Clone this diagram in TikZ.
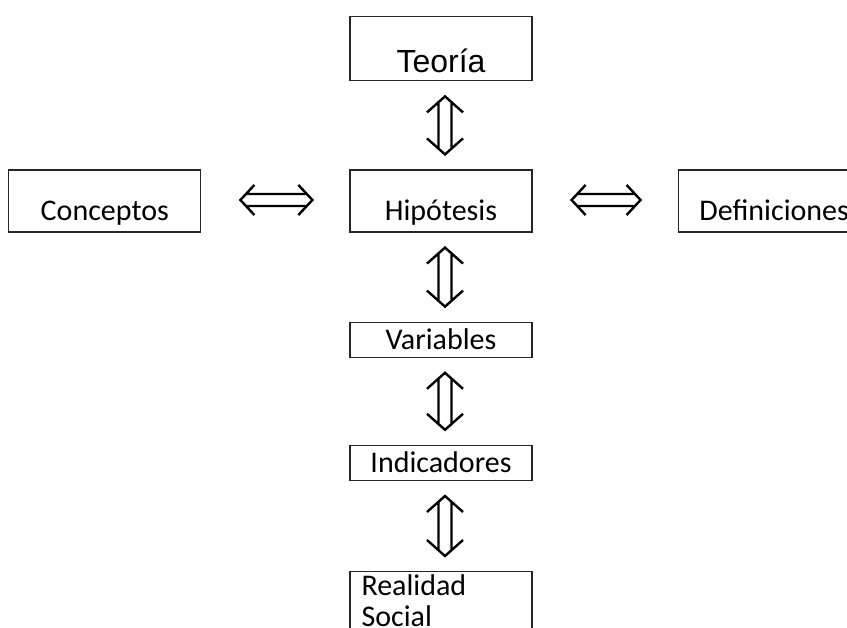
\documentclass[tikz,border=0pt]{standalone}
\usepackage{fontspec}
\setmainfont{Carlito}
\newfontfamily\arialfont{Liberation Sans}
\usetikzlibrary{positioning, calc}

% hollow double arrows between two named nodes
\newcommand{\vdbl}[2]{%
  \draw[dblarrow] let \p1=([xshift=4pt,yshift=-15pt]#1.south),
                      \p2=([xshift=4pt,yshift=15pt]#2.north) in
    (\x1-18pt,\y1-16pt) -- (\x1,\y1) -- (\x1+18pt,\y1-16pt)
    (\x1-6.5pt,\y1-5.8pt) -- (\x1-6.5pt,\y2+5.8pt)
    (\x1+6.5pt,\y1-5.8pt) -- (\x1+6.5pt,\y2+5.8pt)
    (\x1-18pt,\y2+16pt) -- (\x1,\y2) -- (\x1+18pt,\y2+16pt);}
\newcommand{\hdbl}[2]{%
  \draw[dblarrow] let \p1=([xshift=39pt,yshift=1pt]#1.east),
                      \p2=([xshift=-37pt]#2.west) in
    (\x1+14pt,\y1+15pt) -- (\x1,\y1) -- (\x1+14pt,\y1-15pt)
    (\x1+5.6pt,\y1+6pt) -- (\x2-5.6pt,\y1+6pt)
    (\x1+5.6pt,\y1-6pt) -- (\x2-5.6pt,\y1-6pt)
    (\x2-14pt,\y1+15pt) -- (\x2,\y1) -- (\x2-14pt,\y1-15pt);}

\begin{document}
\begin{tikzpicture}[
  x=1pt, y=-1pt,
  node distance=88pt and 148pt,
  block/.style={rectangle, draw=black!85, line width=1.2pt, minimum width=182pt, inner sep=3pt, font=\fontsize{30}{31}\selectfont},
  tall/.style={block, text height=48pt, text depth=8pt},
  wide/.style={tall, minimum width=192pt},
  flat/.style={block, text height=24pt, text depth=5pt},
  dblarrow/.style={line width=2.4pt}
]
\useasboundingbox (0,0) rectangle (847,628);
\clip (0,0) rectangle (847,628);

\node[tall] (hipotesis) at (441,201) {Hipótesis};
\node[block, text height=53pt, text depth=5pt, font=\arialfont\fontsize{32}{36}\selectfont, above=of hipotesis] (teoria) {Teoría};
\node[wide, left=of hipotesis] (conceptos) {Conceptos};
\node[wide, right=145pt of hipotesis] (definiciones) {Definiciones};
\node[flat, below=89pt of hipotesis] (variables) {Variables};
\node[flat, below=87pt of variables] (indicadores) {Indicadores};
\node[block, text width=159pt, inner xsep=11pt, inner ysep=2pt, align=left, font=\fontsize{30}{31}\selectfont, below=90pt of indicadores] (realidad) {Realidad\strut\\Social\strut};

\vdbl{teoria}{hipotesis}
\vdbl{hipotesis}{variables}
\vdbl{variables}{indicadores}
\vdbl{indicadores}{realidad}
\hdbl{conceptos}{hipotesis}
\hdbl{hipotesis}{definiciones}
\end{tikzpicture}
\end{document}
